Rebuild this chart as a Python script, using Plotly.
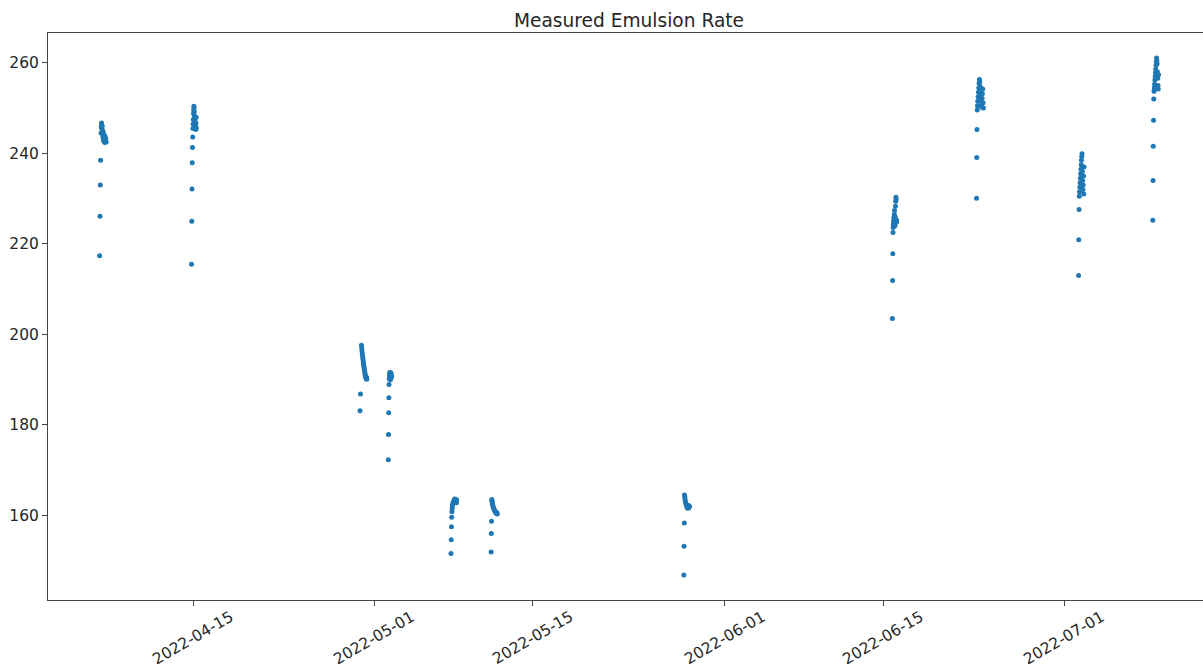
import pandas as pd
import plotly.graph_objects as go

# ---- data: each batch starts at a timestamp; samples given as hours after start ----
batch_starts = ["2022-04-06 17:30", "2022-04-14 20:30", "2022-04-29 18:00", "2022-05-02 06:00",
                "2022-05-07 19:00", "2022-05-11 08:00", "2022-05-28 09:00", "2022-06-15 19:30",
                "2022-06-23 06:00", "2022-07-02 06:30", "2022-07-08 20:00"]

c1_hours = [0, 0.7, 1.4, 2.1, 3, 3.5, 4, 4.5, 5, 5.5, 6, 6.5, 7, 7.5, 8, 8.5, 9, 9.5, 10, 10.5, 11, 11.5, 12, 13, 14]
c1_vals = [217.4, 226.1, 233.0, 238.5, 244.5, 245.8, 246.7, 246.2, 245.4, 246.0, 245.0, 244.3, 243.6, 244.8,
           243.2, 242.8, 244.1, 243.4, 242.6, 243.0, 242.4, 243.8, 242.7, 243.2, 242.5]

c2_hours = [0, 0.5, 1, 1.5, 2, 2.5, 3, 3.4, 3.8, 4.2, 4.6, 5, 5.4, 5.8, 6.2, 6.6, 7, 7.4, 7.8, 8.2, 8.6, 9, 9.4, 9.8, 10.2]
c2_vals = [215.5, 225.0, 232.1, 237.9, 241.3, 243.6, 245.5, 246.5, 247.5, 248.8, 249.6, 250.4, 250.0, 249.2,
           248.3, 247.2, 246.4, 245.8, 246.9, 247.8, 246.1, 245.3, 246.7, 248.0, 245.6]

c3_hours = [0, 1, 3, 3.6, 4.2, 4.8, 5.4, 6, 6.6, 7.2, 7.8, 8.4, 9, 9.6, 10.2, 10.8, 11.4, 12, 12.6, 13.2, 13.8, 14.4]
c3_vals = [183.1, 186.8, 197.6, 197.0, 196.4, 195.8, 195.2, 194.7, 194.2, 193.7, 193.2, 192.8, 192.4, 192.0,
           191.6, 191.2, 190.9, 190.6, 190.4, 190.2, 190.5, 190.1]

c4_hours = [0, 0.4, 0.8, 1.2, 1.6, 2, 2.5, 3, 3.5, 4, 4.5, 5, 5.5, 6, 6.5, 7]
c4_vals = [172.3, 177.9, 182.7, 186.0, 188.9, 190.2, 191.0, 191.6, 190.6, 191.3, 190.0, 190.8, 191.5, 190.4,
           191.1, 190.7]

c5_hours = [0, 0.5, 1, 1.5, 2, 2.5, 3, 4, 5, 6, 7, 8, 9, 10, 10.5, 11, 11.5, 12]
c5_vals = [151.6, 154.6, 157.5, 159.6, 160.8, 161.6, 162.2, 162.6, 162.9, 163.2, 163.4, 163.6, 163.3, 163.0,
           163.5, 163.1, 162.8, 163.4]

c6_hours = [0, 0.5, 1, 1.5, 2, 2.5, 3, 3.5, 4, 5, 6, 7, 8, 9, 10, 11, 12, 12.5, 13]
c6_vals = [151.9, 156.0, 158.7, 163.5, 163.2, 162.9, 162.6, 162.3, 162.0, 161.7, 161.4, 161.2, 161.0, 160.8,
           160.6, 160.5, 160.4, 160.6, 160.3]

c7_hours = [0, 0.5, 1, 1.5, 2, 2.5, 3, 4, 5, 6, 7, 8, 9, 10, 11, 12]
c7_vals = [146.8, 153.2, 158.3, 164.5, 164.1, 163.6, 163.2, 162.8, 162.4, 162.1, 161.8, 161.6, 161.9, 162.2,
           161.7, 162.0]

c8_hours = [0, 0.4, 0.8, 1.2, 1.6, 2, 2.5, 3, 3.5, 4, 4.5, 5, 5.5, 6, 6.5, 7, 7.5, 8, 8.5, 9]
c8_vals = [203.5, 211.9, 217.8, 222.5, 223.6, 224.3, 225.0, 225.8, 224.6, 226.5, 227.4, 225.4, 224.0, 226.0,
           228.3, 229.4, 230.3, 229.8, 224.8, 225.2]

c9_hours = [0, 0.5, 1, 1.5, 2, 2.7, 3.4, 4.1, 4.8, 5.5, 6.2, 6.9, 7.6, 8.3, 9, 9.7, 10.4, 11.1, 11.8, 12.5, 13.2, 13.9, 14.6]
c9_vals = [230.1, 239.1, 245.3, 249.6, 250.5, 251.5, 252.5, 253.5, 254.5, 255.5, 256.3, 255.8, 254.8, 253.8,
           252.8, 251.8, 250.8, 250.2, 252.2, 253.2, 254.2, 251.2, 250.0]

c10_hours = [0, 0.5, 1, 1.5, 2, 2.6, 3.2, 3.8, 4.4, 5, 5.6, 6.2, 6.8, 7.4, 8, 8.6, 9.2, 9.8, 10.4, 11, 11.6]
c10_vals = [213.0, 220.9, 227.6, 230.5, 231.5, 232.5, 233.5, 234.5, 235.5, 236.5, 237.5, 238.5, 239.3, 239.9,
            236.0, 234.0, 232.0, 233.0, 235.0, 231.0, 237.0]

c11_hours = [0, 0.5, 1, 1.5, 2, 2.6, 3.2, 3.8, 4.4, 5, 5.6, 6.2, 6.8, 7.4, 8, 8.6, 9.2, 9.8, 10.4, 11, 11.6, 12.2]
c11_vals = [225.2, 234.0, 241.6, 247.3, 252.0, 253.7, 254.5, 255.3, 256.2, 257.0, 257.8, 258.6, 259.4, 260.2,
            261.1, 260.6, 259.8, 258.0, 256.6, 255.0, 254.2, 257.4]

x_tick_vals = ["2022-04-15", "2022-05-01", "2022-05-15", "2022-06-01", "2022-06-15", "2022-07-01"]
y_tick_vals = [160, 180, 200, 220, 240, 260]
title_text = "Measured Emulsion Rate"

hours_sets = [c1_hours, c2_hours, c3_hours, c4_hours, c5_hours, c6_hours, c7_hours, c8_hours,
              c9_hours, c10_hours, c11_hours]
vals_sets = [c1_vals, c2_vals, c3_vals, c4_vals, c5_vals, c6_vals, c7_vals, c8_vals,
             c9_vals, c10_vals, c11_vals]

xs, ys = [], []
for start, hrs, vals in zip(batch_starts, hours_sets, vals_sets):
    t0 = pd.Timestamp(start)
    for h, v in zip(hrs, vals):
        xs.append(t0 + pd.Timedelta(hours=h))
        ys.append(v)

W, H = 1203, 664
M_L, M_R, M_T, M_B = 48, 0, 33, 64
plot_h = H - M_T - M_B
font_family = "DejaVu Sans"
txt_color = "#262626"
tick_size = 15.5

fig = go.Figure()
fig.add_trace(go.Scatter(x=xs, y=ys, mode="markers",
                         marker=dict(color="#1f77b4", size=5, line=dict(width=0)),
                         showlegend=False))

# matplotlib-style x tick labels: rotated 30 deg, centred under the tick
for d in x_tick_vals:
    fig.add_annotation(x=d, xref="x", y=-6.5 / plot_h, yref="paper",
                       text=d, showarrow=False, textangle=-30,
                       xanchor="center", yanchor="top", borderpad=0,
                       font=dict(family=font_family, size=tick_size, color=txt_color))

fig.update_layout(
    width=W, height=H,
    margin=dict(l=M_L, r=M_R, t=M_T, b=M_B, autoexpand=False),
    paper_bgcolor="white", plot_bgcolor="white",
    font=dict(family=font_family, size=tick_size, color=txt_color),
    title=dict(text=title_text, x=629 / W, xanchor="center", xref="container",
               y=1 - 20 / H, yanchor="middle", yref="container",
               font=dict(family=font_family, size=18.6, color=txt_color)),
)
fig.update_xaxes(
    type="date", automargin=False,
    range=["2022-04-02 04:00", "2022-07-13 06:30"],
    tickmode="array", tickvals=x_tick_vals, showticklabels=False,
    showgrid=False, zeroline=False,
    showline=True, linecolor="#444", linewidth=1, mirror=True,
    ticks="outside", ticklen=5, tickcolor="#444",
)
fig.update_yaxes(
    automargin=False,
    range=[141.3, 266.6],
    tickmode="array", tickvals=y_tick_vals,
    showgrid=False, zeroline=False,
    showline=True, linecolor="#444", linewidth=1,
    ticks="outside", ticklen=5, tickcolor="#444",
)

fig.write_html("out.html")
